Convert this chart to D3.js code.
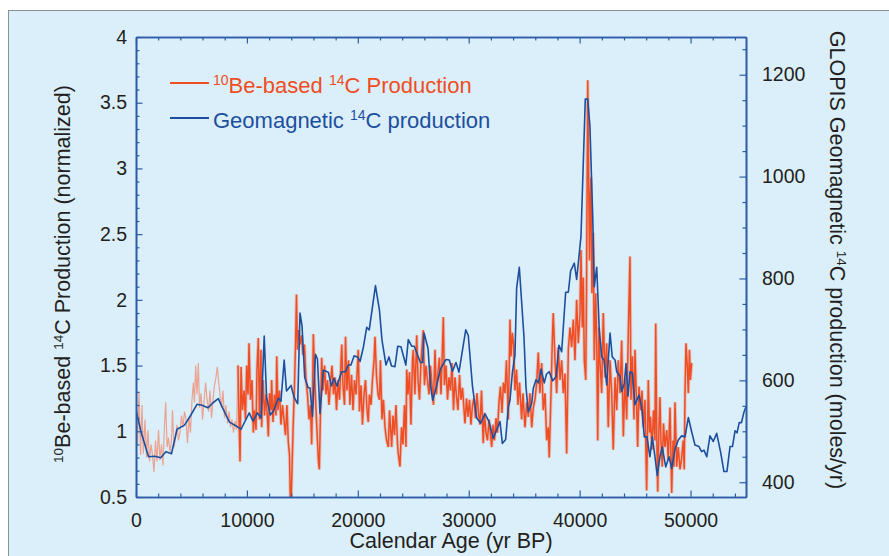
<!DOCTYPE html>
<html>
<head>
<meta charset="utf-8">
<script src="https://cdn.jsdelivr.net/npm/d3@7"></script>
<style>
  body { margin: 0; background: #fff; }
  svg { font-family: 'Liberation Sans', Arial, sans-serif; }
</style>
</head>
<body>
<figure style="margin:0"></figure>
<script>
const width = 889
const height = 556

// geomagnetic 14C production (moles/yr)
const geoYears = [0, 450, 1130, 1710, 2230, 2700, 3200, 3700, 4370, 4870, 5500, 5950, 6490, 6940, 7420, 7870, 8430, 8990, 9470, 10210, 10550, 10950, 11270, 11560, 11770, 12110, 12400, 12830, 13070, 13360, 13570, 13980, 14250, 14580, 14790, 14970, 15210, 15510, 15690, 15910, 16180, 16360, 16590, 16890, 17340, 17610, 17850, 18120, 18530, 18890, 19140, 19380, 19660, 19990, 20200, 20510, 20800, 21030, 21590, 21950, 22180, 22540, 22810, 23040, 23350, 23600, 23890, 24330, 24550, 24860, 25090, 25450, 25650, 25850, 25970, 26330, 26550, 26750, 27050, 27450, 27950, 28250, 28540, 28850, 29120, 29730, 29960, 30340, 30720, 31080, 31470, 31830, 32210, 32520, 32820, 33030, 33330, 33570, 33720, 33930, 34170, 34320, 34560, 34980, 35160, 35370, 35680, 35820, 36060, 36290, 36520, 36810, 37010, 37260, 37570, 37870, 38140, 38380, 38740, 38980, 39190, 39520, 39730, 40120, 40510, 40730, 40930, 41180, 41320, 41540, 41770, 41990, 42200, 42440, 42740, 42940, 43190, 43340, 43640, 43790, 44030, 44180, 44360, 44540, 44760, 44990, 45350, 45590, 45830, 46070, 46340, 46550, 46790, 47000, 47240, 47450, 47760, 48060, 48300, 48600, 48890, 49200, 49500, 49800, 50100, 50400, 50760, 51000, 51210, 51460, 51750, 52050, 52360, 52720, 53010, 53280, 53560, 53780, 54010, 54190, 54390, 54590, 54820, 55000]
const geoMoles = [542, 499, 450, 451, 448, 460, 456, 504, 512, 529, 553, 551, 546, 556, 564, 543, 518, 511, 504, 536, 520, 536, 526, 687, 568, 532, 540, 565, 559, 640, 579, 590, 567, 554, 732, 707, 606, 586, 585, 529, 651, 642, 535, 620, 616, 589, 604, 589, 617, 617, 630, 630, 648, 646, 637, 666, 704, 699, 786, 738, 679, 630, 646, 628, 627, 667, 666, 630, 680, 667, 667, 646, 635, 635, 693, 663, 591, 561, 585, 622, 641, 640, 618, 635, 616, 699, 688, 588, 526, 516, 534, 519, 486, 503, 519, 476, 484, 548, 561, 614, 650, 781, 822, 686, 588, 538, 555, 584, 601, 595, 622, 595, 612, 617, 599, 607, 669, 656, 773, 773, 815, 830, 798, 882, 1152, 1152, 1098, 921, 784, 822, 699, 646, 640, 591, 693, 646, 640, 617, 608, 578, 594, 633, 569, 617, 614, 552, 571, 548, 489, 489, 450, 489, 450, 413, 450, 469, 430, 450, 427, 465, 483, 491, 489, 527, 499, 473, 470, 460, 463, 450, 491, 480, 496, 458, 421, 421, 470, 470, 501, 497, 517, 517, 538, 548]

// 10Be-based 14C production, sparse early part (drawn faint)
const beEarlyYears = [0, 135, 270, 410, 540, 660, 810, 950, 1080, 1220, 1350, 1490, 1620, 1760, 1890, 2030, 2160, 2300, 2430, 2570, 2680, 2800, 2930, 3070, 3200, 3290, 3430, 3560, 3700, 3830, 3970, 4100, 4240, 4370, 4510, 4640, 4780, 4910, 5050, 5170, 5270, 5380, 5500, 5620, 5730, 5860, 6000, 6130, 6280, 6400, 6540, 6670, 6810, 6940, 7080, 7210, 7330, 7440, 7570, 7710, 7840, 7980, 8110, 8250, 8390, 8520, 8660, 8790, 8930, 9060, 9200]
const beEarlyValues = [1.24, 0.90, 1.30, 0.82, 1.20, 0.83, 1.09, 0.80, 1.01, 0.77, 0.90, 0.82, 0.69, 0.93, 0.77, 1.01, 0.78, 0.90, 0.74, 1.05, 1.22, 0.88, 0.95, 0.84, 0.93, 1.16, 0.88, 0.95, 1.05, 0.93, 0.99, 1.12, 1.03, 1.15, 1.09, 0.91, 1.11, 0.99, 1.24, 1.37, 1.22, 1.50, 1.28, 1.52, 1.18, 1.29, 1.09, 1.22, 1.37, 1.25, 1.15, 1.31, 1.10, 1.24, 1.35, 1.41, 1.49, 1.39, 1.28, 1.18, 1.31, 1.10, 1.20, 1.06, 1.15, 1.03, 1.09, 0.99, 1.08, 1.01, 1.50]

// 10Be-based 14C production, dense part
const beYears = [9200, 9290, 9380, 9470, 9600, 9740, 9870, 9980, 10100, 10190, 10320, 10460, 10580, 10680, 10820, 10910, 11030, 11130, 11270, 11330, 11450, 11590, 11720, 11860, 11930, 12040, 12170, 12230, 12350, 12490, 12620, 12690, 12800, 12940, 13070, 13210, 13340, 13480, 13610, 13730, 13840, 13910, 13960, 14040, 14160, 14290, 14380, 14470, 14560, 14650, 14790, 14920, 15060, 15190, 15330, 15460, 15600, 15730, 15840, 15910, 15990, 16090, 16230, 16360, 16450, 16530, 16620, 16740, 16860, 17000, 17130, 17270, 17400, 17540, 17670, 17810, 17940, 18080, 18210, 18350, 18550, 18660, 18800, 18890, 19020, 19160, 19290, 19430, 19570, 19700, 19840, 20040, 20150, 20290, 20420, 20560, 20690, 20830, 20940, 21050, 21190, 21320, 21460, 21550, 21680, 21820, 21950, 22040, 22180, 22310, 22450, 22600, 22750, 22860, 22990, 23050, 23170, 23310, 23440, 23580, 23650, 23800, 23940, 24070, 24210, 24340, 24410, 24520, 24660, 24790, 24930, 25000, 25150, 25310, 25430, 25560, 25700, 25900, 26010, 26150, 26280, 26420, 26550, 26690, 26820, 26960, 27090, 27230, 27360, 27500, 27710, 27810, 27950, 28090, 28220, 28360, 28490, 28630, 28760, 28900, 29030, 29170, 29300, 29440, 29660, 29800, 29930, 30070, 30200, 30340, 30470, 30610, 30740, 30880, 31020, 31150, 31310, 31420, 31560, 31690, 31830, 32070, 32190, 32320, 32460, 32590, 32730, 32860, 33000, 33130, 33270, 33400, 33570, 33630, 33720, 33810, 33930, 34040, 34170, 34310, 34440, 34580, 34770, 34890, 35070, 35230, 35370, 35520, 35680, 35820, 35970, 36130, 36270, 36420, 36580, 36720, 36880, 37030, 37170, 37260, 37420, 37530, 37620, 37780, 37930, 38070, 38230, 38380, 38530, 38680, 38830, 38980, 39130, 39280, 39430, 39580, 39730, 39880, 40030, 40120, 40240, 40330, 40420, 40550, 40620, 40730, 40800, 40890, 40950, 41020, 41110, 41230, 41320, 41450, 41540, 41630, 41740, 41830, 41990, 42130, 42290, 42440, 42580, 42740, 42890, 43030, 43190, 43340, 43480, 43640, 43790, 43940, 44090, 44240, 44390, 44540, 44630, 44760, 44900, 44990, 45130, 45230, 45350, 45490, 45620, 45760, 45890, 46040, 46190, 46300, 46390, 46520, 46660, 46790, 46860, 46950, 47040, 47150, 47240, 47330, 47450, 47560, 47690, 47850, 47990, 48150, 48300, 48420, 48510, 48600, 48750, 48890, 49050, 49200, 49340, 49430, 49500, 49590, 49710, 49800, 49900, 49990, 50100]
const beValues = [1.50, 1.09, 0.77, 1.49, 1.16, 1.31, 1.09, 1.50, 1.28, 1.67, 1.24, 1.39, 0.99, 1.16, 1.01, 1.47, 1.71, 1.09, 1.62, 1.03, 1.39, 1.12, 1.28, 1.09, 0.96, 1.29, 1.16, 1.39, 1.07, 1.28, 1.12, 1.57, 1.16, 1.31, 1.05, 1.20, 1.09, 0.97, 1.20, 0.92, 0.82, 0.50, 0.40, 0.63, 1.01, 1.35, 1.65, 2.04, 1.62, 1.77, 1.66, 1.73, 1.58, 1.66, 1.39, 1.28, 1.09, 1.20, 0.90, 1.24, 1.74, 1.47, 1.16, 0.93, 0.77, 0.71, 1.09, 1.56, 1.31, 1.50, 1.28, 1.39, 1.20, 1.37, 1.50, 1.28, 1.41, 1.16, 1.39, 1.24, 1.66, 1.35, 1.20, 1.72, 1.31, 1.54, 1.20, 1.43, 1.16, 1.39, 1.28, 1.62, 1.15, 1.35, 1.05, 1.28, 1.39, 1.16, 1.07, 1.28, 1.20, 1.39, 1.54, 1.72, 1.43, 1.28, 1.24, 1.54, 1.09, 1.24, 1.03, 0.93, 0.88, 1.16, 0.97, 0.88, 1.12, 0.97, 1.20, 0.90, 0.83, 0.73, 1.03, 0.90, 1.20, 0.88, 1.47, 1.28, 1.45, 1.05, 1.54, 1.62, 1.28, 1.73, 1.39, 1.24, 1.54, 1.77, 1.35, 1.50, 1.39, 1.28, 1.50, 1.35, 1.20, 1.62, 1.28, 1.45, 1.56, 1.28, 1.87, 1.35, 1.50, 1.24, 1.41, 1.31, 1.52, 1.16, 1.41, 1.26, 1.16, 1.43, 1.24, 1.33, 1.06, 1.25, 1.11, 1.24, 1.05, 1.20, 1.25, 1.10, 1.29, 1.14, 1.05, 1.31, 0.91, 1.14, 0.99, 0.93, 1.09, 0.88, 1.05, 0.93, 1.10, 0.99, 1.22, 1.34, 1.14, 1.37, 1.29, 1.54, 1.09, 1.39, 1.85, 1.57, 1.75, 1.66, 1.31, 1.47, 1.20, 1.37, 1.09, 1.29, 1.03, 1.22, 1.11, 1.29, 1.03, 1.18, 1.24, 1.37, 1.60, 1.29, 1.52, 1.16, 1.29, 0.93, 1.03, 0.80, 1.29, 1.67, 1.90, 1.54, 1.29, 1.64, 1.39, 1.54, 1.29, 1.44, 0.83, 1.62, 1.79, 1.64, 1.85, 1.54, 2.00, 1.67, 1.90, 2.38, 1.79, 2.17, 1.54, 1.39, 2.05, 3.67, 3.06, 2.30, 2.76, 2.93, 2.05, 2.51, 1.54, 2.05, 1.67, 0.93, 1.79, 1.54, 1.29, 1.90, 1.41, 1.67, 1.03, 1.54, 1.29, 0.86, 1.41, 1.16, 1.54, 1.29, 1.69, 0.96, 1.41, 1.09, 1.75, 2.33, 1.24, 1.57, 1.09, 1.62, 1.22, 0.88, 1.34, 1.16, 1.31, 1.03, 1.24, 0.55, 1.39, 0.99, 1.11, 0.86, 1.16, 0.93, 1.82, 0.99, 0.54, 1.03, 1.26, 0.93, 0.73, 1.06, 0.88, 1.01, 0.78, 1.18, 0.53, 0.93, 0.73, 1.22, 0.73, 0.88, 0.71, 0.80, 0.93, 0.71, 1.29, 1.67, 1.49, 1.29, 1.62, 1.39, 1.52]

const xMajor = [0, 10000, 20000, 30000, 40000, 50000]
const leftMajor = [0.5, 1, 1.5, 2, 2.5, 3, 3.5, 4]
const rightMajor = [400, 600, 800, 1000, 1200]

const axisColor = '#2c5ca6'
const textColor = '#231f20'
const beColor = '#ef4d24'
const geoColor = '#1d4f9e'

const svg = d3.select('figure').append('svg')
  .attr('width', width)
  .attr('height', height)

// panel background
svg.append('rect')
  .attr('x', 8.5)
  .attr('y', 10.5)
  .attr('width', 900)
  .attr('height', 600)
  .attr('fill', '#dbeffa')
  .attr('stroke', '#8c9196')
  .attr('stroke-width', 1)

const plot = { left: 136, right: 746, top: 37, bottom: 497 }

const x = d3.scaleLinear().domain([0, 55000]).range([plot.left, plot.right])
const yL = d3.scaleLinear().domain([0.5, 4]).range([plot.bottom, plot.top])
const yR = d3.scaleLinear().domain([371, 1274]).range([plot.bottom, plot.top])

svg.append('clipPath').attr('id', 'clip')
  .append('rect')
  .attr('x', plot.left)
  .attr('y', plot.top)
  .attr('width', plot.right - plot.left)
  .attr('height', plot.bottom - plot.top)

const g = svg.append('g').attr('clip-path', 'url(#clip)')

const beLine = d3.line()
  .x(d => x(d[0]))
  .y(d => yL(d[1]))

const early = beEarlyYears.map((yr, i) => [yr, beEarlyValues[i]])
const dense = beYears.map((yr, i) => [yr, beValues[i]])

g.append('path')
  .datum(early)
  .attr('d', beLine)
  .attr('fill', 'none')
  .attr('stroke', '#eba391')
  .attr('stroke-width', 1.2)

// soft halo under the dense record
g.append('path')
  .datum(dense)
  .attr('d', beLine)
  .attr('fill', 'none')
  .attr('stroke', '#ec9a86')
  .attr('stroke-width', 3.4)
  .attr('stroke-opacity', 0.5)

g.append('path')
  .datum(dense)
  .attr('d', beLine)
  .attr('fill', 'none')
  .attr('stroke', beColor)
  .attr('stroke-width', 1.5)

const geoLine = d3.line()
  .x(d => x(d[0]))
  .y(d => yR(d[1]))

g.append('path')
  .datum(geoYears.map((yr, i) => [yr, geoMoles[i]]))
  .attr('d', geoLine)
  .attr('fill', 'none')
  .attr('stroke', geoColor)
  .attr('stroke-width', 1.6)
  .attr('stroke-linejoin', 'round')

// axes, ticks pointing inward
const styleAxis = (sel) => {
  sel.selectAll('.domain').attr('stroke', axisColor).attr('stroke-width', 1.6)
  sel.selectAll('.tick line').attr('stroke', axisColor).attr('stroke-width', 1.2)
  sel.selectAll('.tick text')
    .attr('fill', textColor)
    .style('font-size', '19.5px')
    .style('font-family', "'Liberation Sans', Arial, sans-serif")
}

const xMinor = d3.range(0, 55001, 2000).filter(v => v % 10000 !== 0)
const leftMinor = d3.range(5, 41).map(v => v / 10).filter(v => Math.abs(v * 2 - Math.round(v * 2)) > 1e-6)
const rightMinor = d3.range(400, 1274, 50).filter(v => v % 200 !== 0)

const minor = (axis, vals) => axis.tickValues(vals).tickFormat('').tickSize(-3.5).tickSizeOuter(0)

svg.append('g').attr('transform', `translate(0,${plot.bottom})`)
  .call(minor(d3.axisBottom(x), xMinor)).call(styleAxis)
svg.append('g').attr('transform', `translate(0,${plot.bottom})`)
  .call(d3.axisBottom(x).tickValues(xMajor).tickSize(-6.5).tickSizeOuter(0).tickPadding(16).tickFormat(d3.format('d')))
  .call(styleAxis)

svg.append('g').attr('transform', `translate(0,${plot.top})`)
  .call(minor(d3.axisTop(x), xMinor)).call(styleAxis)
svg.append('g').attr('transform', `translate(0,${plot.top})`)
  .call(d3.axisTop(x).tickValues(xMajor).tickSize(-6.5).tickSizeOuter(0).tickFormat(''))
  .call(styleAxis)

svg.append('g').attr('transform', `translate(${plot.left},0)`)
  .call(minor(d3.axisLeft(yL), leftMinor)).call(styleAxis)
svg.append('g').attr('transform', `translate(${plot.left},0)`)
  .call(d3.axisLeft(yL).tickValues(leftMajor).tickSize(-6.5).tickSizeOuter(0).tickPadding(9).tickFormat(d => String(d)))
  .call(styleAxis)

svg.append('g').attr('transform', `translate(${plot.right},0)`)
  .call(minor(d3.axisRight(yR), rightMinor)).call(styleAxis)
svg.append('g').attr('transform', `translate(${plot.right},0)`)
  .call(d3.axisRight(yR).tickValues(rightMajor).tickSize(-6.5).tickSizeOuter(0).tickPadding(16).tickFormat(d => String(d)))
  .call(styleAxis)

// titles
const titleSize = 21.5
const supSize = 13.5

svg.append('text')
  .attr('x', (plot.left + plot.right) / 2 + 10)
  .attr('y', 548)
  .attr('text-anchor', 'middle')
  .attr('fill', textColor)
  .style('font-size', titleSize + 'px')
  .text('Calendar Age (yr BP)')

const leftTitle = svg.append('text')
  .attr('transform', 'translate(70,274) rotate(-90)')
  .attr('text-anchor', 'middle')
  .attr('fill', textColor)
  .style('font-size', titleSize + 'px')
leftTitle.append('tspan').attr('baseline-shift', 'super').style('font-size', supSize + 'px').text('10')
leftTitle.append('tspan').text('Be-based ')
leftTitle.append('tspan').attr('baseline-shift', 'super').style('font-size', supSize + 'px').text('14')
leftTitle.append('tspan').text('C Production (normalized)')

const rightTitle = svg.append('text')
  .attr('transform', 'translate(830,260) rotate(90)')
  .attr('text-anchor', 'middle')
  .attr('fill', textColor)
  .style('font-size', titleSize + 'px')
rightTitle.append('tspan').text('GLOPIS Geomagnetic ')
rightTitle.append('tspan').attr('baseline-shift', 'super').style('font-size', supSize + 'px').text('14')
rightTitle.append('tspan').text('C production (moles/yr)')

// legend
const legend = [
  { color: beColor, y: 83, parts: [['10', true], ['Be-based ', false], ['14', true], ['C Production', false]] },
  { color: geoColor, y: 118, parts: [['Geomagnetic ', false], ['14', true], ['C production', false]] }
]

legend.forEach(item => {
  svg.append('line')
    .attr('x1', 170).attr('x2', 209)
    .attr('y1', item.y).attr('y2', item.y)
    .attr('stroke', item.color)
    .attr('stroke-width', 2)
  const t = svg.append('text')
    .attr('x', 213)
    .attr('y', item.y + 10)
    .attr('fill', item.color)
    .style('font-size', '22px')
  item.parts.forEach(p => {
    const s = t.append('tspan').text(p[0])
    if (p[1]) s.attr('baseline-shift', 'super').style('font-size', '14px')
  })
})
</script>
</body>
</html>
